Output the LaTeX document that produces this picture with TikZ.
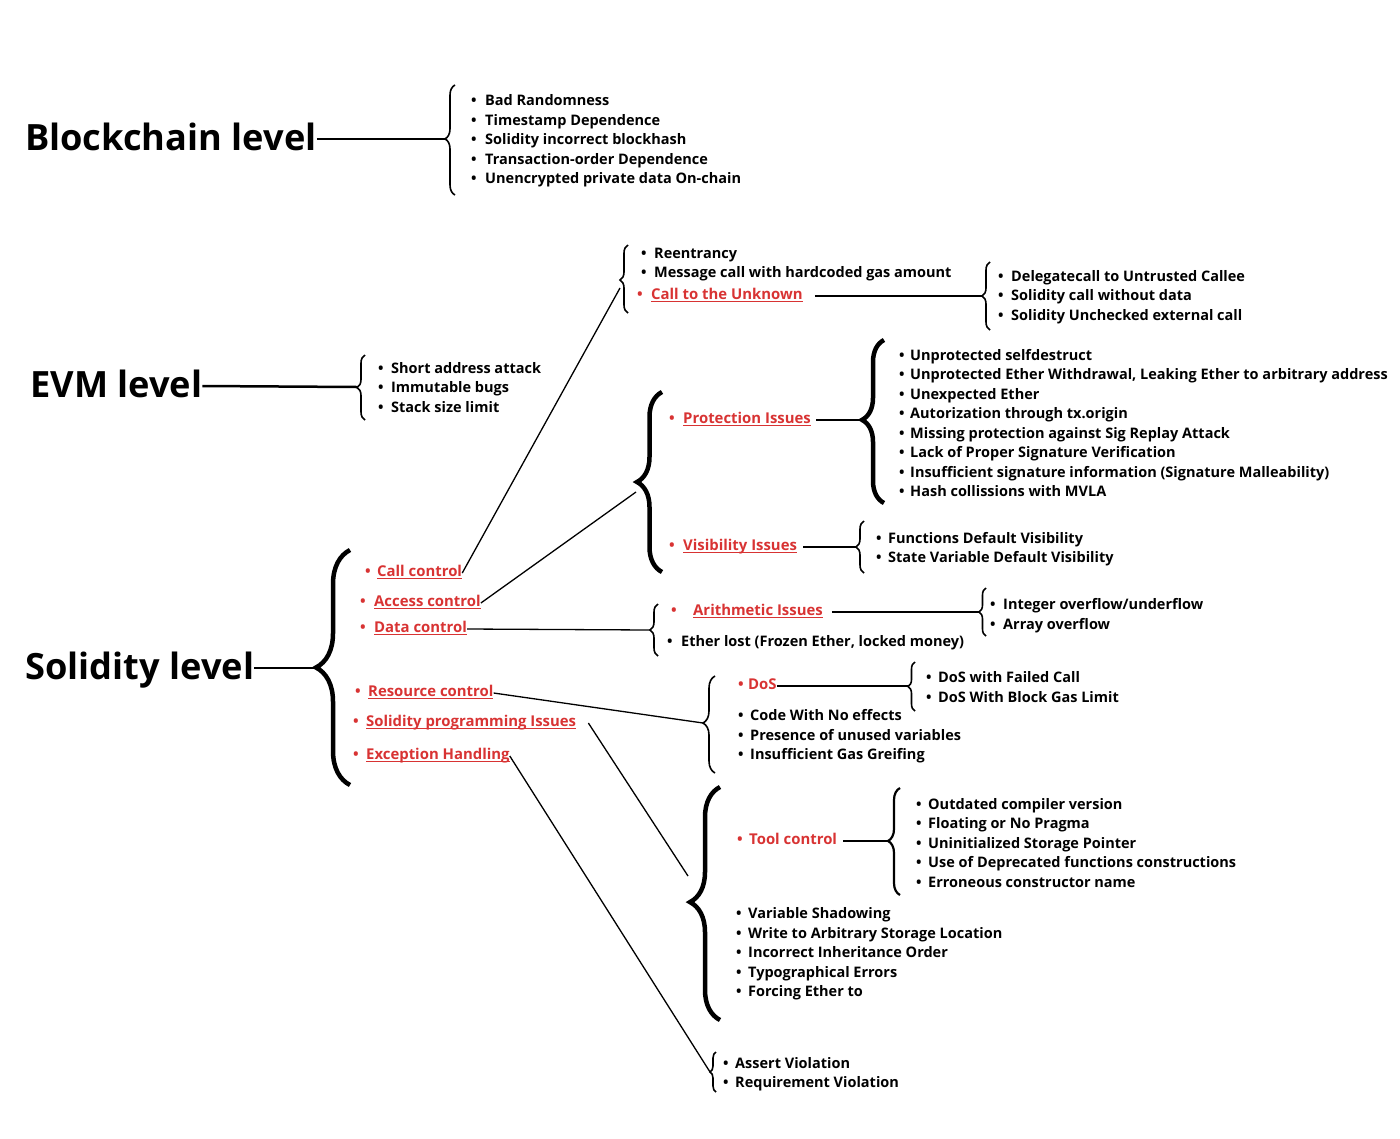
\documentclass[tikz,border=0pt]{standalone}
\usepackage{fontspec}
\setmainfont{Open Sans}
\usepackage{xcolor}
\usetikzlibrary{decorations.pathreplacing}

\definecolor{bugred}{HTML}{D83333}
\newsavebox{\ulbox}
\newcommand{\bul}[1][14pt]{\makebox[#1][l]{\textbullet}}
\newcommand{\bugul}[1]{\sbox{\ulbox}{#1}\rlap{\rule[-2.8pt]{\wd\ulbox}{1.4pt}}\usebox{\ulbox}}

\tikzset{
  level/.style={anchor=west, inner sep=0pt, text height=23pt, text depth=0pt,
    font=\fontsize{36.2}{40}\selectfont\bfseries},
  item/.style={anchor=west, inner sep=0pt, align=left, yshift=-2pt,
    font=\fontsize{14.5}{19.5}\selectfont\bfseries},
  reditem/.style={item, text=bugred, text height=10pt, text depth=3.5pt,
    font=\fontsize{14.9}{19.5}\selectfont\bfseries},
  link/.style={line width=1.3pt},
  levellink/.style={line width=2.5pt},
  bugbrace/.style={decorate, line width=1.6pt},
  bigbrace/.style={decorate, line width=4.5pt},
}

\begin{document}
\begin{tikzpicture}[x=1pt, y=-1pt]
    \useasboundingbox (0,0) rectangle (1400,1138);

    % Blockchain level
    \node[level] (blockchainLvl) at (25,139) {Blockchain level};
    \draw[bugbrace, decoration={brace, amplitude=10pt, aspect=0.51}] (455,195) -- (455,85);
    \coordinate (bcTip) at (445,139);
    \draw[levellink] (blockchainLvl.east) -- (bcTip);
    \node[item] (bcList) at (471,139) {\bul Bad Randomness\\ \bul Timestamp Dependence\\
      \bul Solidity incorrect blockhash\\ \bul Transaction-order Dependence\\
      \bul Unencrypted private data On-chain};

    % EVM level
    \node[level] (evmLvl) at (30,386) {EVM level};
    \draw[bugbrace, decoration={brace, amplitude=8pt}] (365,420) -- (365,355);
    \coordinate (evmTip) at (357,387);
    \draw[levellink] (evmLvl.east) -- (evmTip);
    \node[item] (evmList) at (378,385.5) {\bul[13pt]Short address attack\\
      \bul[13pt]Immutable bugs\\ \bul[13pt]Stack size limit};

    % Solidity level
    \node[level] (solidityLvl) at (25,668) {Solidity level};
    \draw[bigbrace, decoration={brace, amplitude=34pt}] (350,785) -- (350,550);
    \coordinate (solTip) at (315,668);
    \draw[levellink] (solidityLvl.east) -- (solTip);
    \node[reditem] (callCtl) at (365,571) {\bul[12pt]\bugul{Call control}};
    \node[reditem] (accessCtl) at (360,601) {\bul\bugul{Access control}};
    \node[reditem] (dataCtl) at (360,627) {\bul\bugul{Data control}};
    \node[reditem] (resourceCtl) at (355,691) {\bul[13pt]\bugul{Resource control}};
    \node[reditem] (progIssues) at (353,721) {\bul[13pt]\bugul{Solidity programming Issues}};
    \node[reditem] (exceptCtl) at (353,754) {\bul[13pt]\bugul{Exception Handling}};

    % Call control
    \draw[bugbrace, decoration={brace, amplitude=8pt, aspect=0.485}] (628,313) -- (628,245);
    \coordinate (callIn) at (620,288);
    \draw[link] (callCtl.east) -- (callIn);
    \node[item] (callList) at (641,262.5) {\bul[13pt]Reentrancy\\
      \bul[13pt]Message call with hardcoded gas amount};
    \node[reditem] (unknown) at (637,294) {\bul\bugul{Call to the Unknown}};
    \draw[bugbrace, decoration={brace, amplitude=8pt}] (990,330) -- (990,262);
    \coordinate (unknownTip) at (982,296);
    \draw[link] ([xshift=12pt]unknown.east) -- (unknownTip);
    \node[item] (unknownList) at (998,295) {\bul[13pt]Delegatecall to Untrusted Callee\\
      \bul[13pt]Solidity call without data\\ \bul[13pt]Solidity Unchecked external call};

    % Access control
    \draw[bigbrace, decoration={brace, amplitude=25pt}] (662,572) -- (662,392);
    \coordinate (accessIn) at (636,492);
    \draw[link] (accessCtl.east) -- (accessIn);
    \node[reditem] (protection) at (669,418) {\bul\bugul{Protection Issues}};
    \draw[bigbrace, decoration={brace, amplitude=22pt, aspect=0.51}] (884,503) -- (884,340);
    \coordinate (protectionTip) at (862,420);
    \draw[link] ([xshift=5pt]protection.east) -- (protectionTip);
    \node[item] (protectionList) at (899,421) {\bul[11pt]Unprotected selfdestruct\\
      \bul[11pt]Unprotected Ether Withdrawal, Leaking Ether to arbitrary address\\
      \bul[11pt]Unexpected Ether\\ \bul[11pt]Autorization through tx.origin\\
      \bul[11pt]Missing protection against Sig Replay Attack\\
      \bul[11pt]Lack of Proper Signature Verification\\
      \bul[11pt]Insufficient signature information (Signature Malleability)\\
      \bul[11pt]Hash collissions with MVLA};
    \node[reditem] (visibility) at (669,545) {\bul\bugul{Visibility Issues}};
    \draw[bugbrace, decoration={brace, amplitude=8pt}] (864,573) -- (864,521);
    \coordinate (visibilityTip) at (856,547);
    \draw[link] ([xshift=6pt]visibility.east) -- (visibilityTip);
    \node[item] (visibilityList) at (876,547) {\bul[12pt]Functions Default Visibility\\
      \bul[12pt]State Variable Default Visibility};

    % Data control
    \draw[bugbrace, decoration={brace, amplitude=8pt}] (658,656) -- (658,604);
    \coordinate (dataTip) at (650,630);
    \draw[link] (dataCtl.east) -- (dataTip);
    \node[reditem] (arithmetic) at (671,610) {\bul[22pt]\bugul{Arithmetic Issues}};
    \node[item] (etherLost) at (667,641) {\bul Ether lost (Frozen Ether, locked money)};
    \draw[bugbrace, decoration={brace, amplitude=7pt}] (986,636) -- (986,588);
    \coordinate (arithmeticTip) at (979,612);
    \draw[link] ([xshift=9pt]arithmetic.east) -- (arithmeticTip);
    \node[item] (arithmeticList) at (990,613.5) {\bul[13pt]Integer overflow/underflow\\
      \bul[13pt]Array overflow};

    % Resource control
    \draw[bugbrace, decoration={brace, amplitude=12pt, aspect=0.515}] (715,773) -- (715,676);
    \coordinate (resourceTip) at (703,723);
    \draw[link] (resourceCtl.east) -- (resourceTip);
    \node[reditem] (dos) at (738,684) {\bul[10pt]DoS};
    \node[item] (resourceList) at (738,734.5) {\bul[12pt]Code With No effects\\
      \bul[12pt]Presence of unused variables\\ \bul[12pt]Insufficient Gas Greifing};
    \draw[bugbrace, decoration={brace, amplitude=7pt}] (915,711) -- (915,662);
    \coordinate (dosTip) at (908,686);
    \draw[link] (dos.east) -- (dosTip);
    \node[item] (dosList) at (926,685) {\bul[12pt]DoS with Failed Call\\
      \bul[12pt]DoS With Block Gas Limit};

    % Solidity programming Issues
    \draw[bigbrace, decoration={brace, amplitude=30pt, aspect=0.506}] (720,1020) -- (720,787);
    \coordinate (programmingIn) at (688,876);
    \draw[link] ([xshift=12pt]progIssues.east) -- (programmingIn);
    \node[reditem] (tool) at (737,839) {\bul[12pt]Tool control};
    \draw[bugbrace, line width=2.2pt, decoration={brace, amplitude=12pt, aspect=0.505}] (900,895) -- (900,788);
    \coordinate (toolTip) at (888,841);
    \draw[link] ([xshift=6pt]tool.east) -- (toolTip);
    \node[item] (toolList) at (916,841) {\bul[12pt]Outdated compiler version\\
      \bul[12pt]Floating or No Pragma\\ \bul[12pt]Uninitialized Storage Pointer\\
      \bul[12pt]Use of Deprecated functions constructions\\
      \bul[12pt]Erroneous constructor name};
    \node[item] (programmingList) at (736,952) {\bul[12pt]Variable Shadowing\\
      \bul[12pt]Write to Arbitrary Storage Location\\
      \bul[12pt]Incorrect Inheritance Order\\ \bul[12pt]Typographical Errors\\
      \bul[12pt]Forcing Ether to};

    % Exception Handling
    \draw[bugbrace, decoration={brace, amplitude=6pt}] (716,1092) -- (716,1052);
    \coordinate (exceptionTip) at (710,1072);
    \draw[link] (exceptCtl.east) -- (exceptionTip);
    \node[item] (exceptionList) at (723,1072) {\bul[12pt]Assert Violation\\
      \bul[12pt]Requirement Violation};
\end{tikzpicture}
\end{document}
